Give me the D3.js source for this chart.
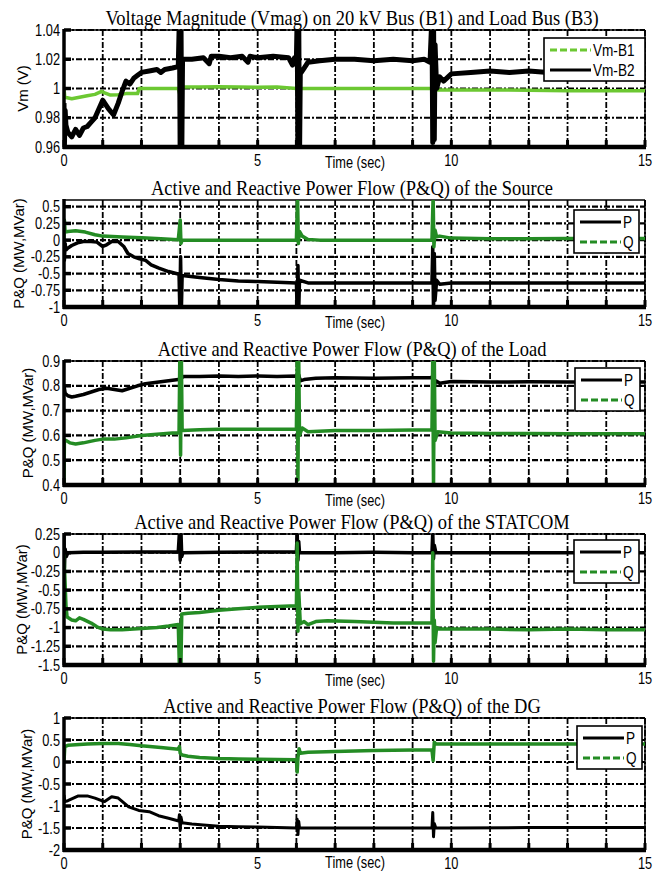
<!doctype html>
<html>
<head>
<meta charset="utf-8">
<title>Vmag and P&Q</title>
<script src="https://d3js.org/d3.v7.min.js"></script>
<style>
  body { margin: 0; background: #fff; }
</style>
</head>
<body>
<div id="chart"></div>
<script>

// ---- data ----

const titles = [
  "Voltage Magnitude (Vmag) on 20 kV Bus (B1) and Load Bus (B3)",
  "Active and Reactive Power Flow (P&Q) of the Source",
  "Active and Reactive Power Flow (P&Q) of the Load",
  "Active and Reactive Power Flow (P&Q) of the STATCOM",
  "Active and Reactive Power Flow (P&Q) of the DG"
];

const xGridTicks = [0,1,2,3,4,5,6,7,8,9,10,11,12,13,14,15];
const xLabelTicks = [0,5,10,15];
const xLabel = "Time (sec)";

// panel 1 - Vm
const vmTicks = [0.96,0.98,1,1.02,1.04];
const vmTickLabels = ["0.96","0.98","1","1.02","1.04"];
const vmB1 = [[0,1.0],[0.02,0.994],[0.2,0.993],[0.4,0.994],[0.6,0.995],[0.8,0.996],[0.97,0.998],[1.05,0.997],[1.2,0.9955],[1.4,0.9958],[1.6,0.9965],[1.9,0.9965],[1.94,1.0],[2.3,1.0],[2.6,1.0],[2.95,1.0],[3.0,0.995],[3.03,1.001],[3.5,1.001],[4,1.0012],[4.5,1.001],[5,1.0008],[5.5,1.001],[6.0,1.0],[6.03,0.997],[6.06,1.0],[6.5,1.0],[7,1.0],[8,1.0],[9,1.0],[9.5,1.0],[9.55,0.996],[9.6,0.999],[10,0.999],[11,0.999],[12,0.9988],[13,0.9985],[14,0.9985],[15,0.9985]];
const vmB2 = [[0,0.99],[0.01,0.96],[0.03,0.985],[0.05,0.975],[0.1,0.97],[0.2,0.967],[0.3,0.972],[0.4,0.968],[0.5,0.973],[0.6,0.974],[0.7,0.977],[0.8,0.98],[0.9,0.986],[1.0,0.992],[1.05,0.99],[1.15,0.986],[1.28,0.982],[1.4,0.99],[1.5,0.998],[1.6,1.005],[1.7,1.003],[1.8,1.007],[1.9,1.009],[2.0,1.011],[2.2,1.012],[2.4,1.013],[2.5,1.011],[2.6,1.013],[2.8,1.014],[2.95,1.015],[2.98,1.05],[3.0,0.95],[3.02,1.05],[3.04,0.95],[3.06,1.02],[3.3,1.02],[3.6,1.021],[3.75,1.017],[3.8,1.022],[4.0,1.022],[4.3,1.021],[4.6,1.022],[4.75,1.018],[4.8,1.022],[5,1.021],[5.4,1.022],[5.8,1.021],[5.9,1.016],[5.95,1.021],[6.0,1.02],[6.02,1.05],[6.04,0.95],[6.06,1.05],[6.08,0.95],[6.1,1.01],[6.2,1.014],[6.3,1.018],[6.6,1.019],[7,1.02],[7.5,1.02],[8,1.019],[8.5,1.02],[9,1.019],[9.3,1.02],[9.45,1.018],[9.5,1.05],[9.52,0.963],[9.54,1.05],[9.56,0.965],[9.58,1.03],[9.62,1.0],[9.7,1.008],[9.8,1.005],[10,1.01],[10.5,1.011],[11,1.012],[11.5,1.011],[12,1.012],[12.5,1.011],[13,1.012],[13.5,1.012],[14,1.013],[14.5,1.011],[14.8,1.014],[15,1.012]];

// panel 2 - source
const srcTicks = [-1,-0.75,-0.5,-0.25,0,0.25,0.5];
const srcTickLabels = ["-1","-0.75","-0.5","-0.25","0","0.25","0.5"];
const srcP = [[0,0.0],[0.01,-0.3],[0.03,-0.05],[0.05,-0.15],[0.1,-0.12],[0.2,-0.08],[0.35,-0.04],[0.5,-0.02],[0.7,-0.02],[0.85,-0.03],[1.0,-0.095],[1.1,-0.07],[1.23,-0.02],[1.4,-0.02],[1.55,-0.1],[1.65,-0.2],[1.8,-0.25],[1.95,-0.28],[2.1,-0.3],[2.25,-0.37],[2.45,-0.42],[2.7,-0.47],[2.97,-0.51],[2.99,-1.05],[3.01,-0.25],[3.03,-1.05],[3.05,-0.53],[3.5,-0.56],[4,-0.59],[4.5,-0.61],[5,-0.62],[5.5,-0.63],[6.0,-0.64],[6.02,-1.05],[6.04,-0.38],[6.06,-1.05],[6.08,-0.6],[6.3,-0.64],[7,-0.64],[8,-0.64],[9,-0.64],[9.5,-0.64],[9.52,-0.1],[9.54,-1.05],[9.56,-0.2],[9.58,-0.9],[9.62,-0.6],[9.7,-0.66],[10,-0.64],[12,-0.64],[15,-0.64]];
const srcQ = [[0,0.0],[0.01,0.3],[0.03,0.12],[0.1,0.13],[0.3,0.14],[0.55,0.12],[0.8,0.08],[1.0,0.06],[1.5,0.045],[2.0,0.035],[2.5,0.02],[2.95,0.005],[3.0,0.3],[3.02,-0.05],[3.05,0.0],[3.5,0.0],[4,0.0],[4.5,0.0],[5,0.0],[5.5,0.0],[6.0,0.0],[6.03,0.65],[6.05,-0.05],[6.08,0.13],[6.15,0.06],[6.3,0.01],[6.6,0.0],[7,0.0],[8,0.0],[9,0.0],[9.5,0.0],[9.53,0.65],[9.55,-0.1],[9.58,0.15],[9.62,0.05],[9.7,0.06],[10,0.03],[11,0.02],[12,0.02],[13,0.025],[14,0.025],[15,0.025]];

// panel 3 - load
const loadTicks = [0.4,0.5,0.6,0.7,0.8,0.9];
const loadTickLabels = ["0.4","0.5","0.6","0.7","0.8","0.9"];
const loadP = [[0,0.8],[0.03,0.77],[0.1,0.76],[0.2,0.755],[0.3,0.758],[0.5,0.765],[0.7,0.775],[0.9,0.785],[1.1,0.79],[1.3,0.785],[1.5,0.78],[1.7,0.79],[1.9,0.8],[2.1,0.808],[2.4,0.814],[2.7,0.82],[2.95,0.825],[3.0,0.83],[3.1,0.838],[3.5,0.838],[4,0.84],[4.5,0.838],[5,0.84],[5.5,0.838],[6.0,0.84],[6.03,0.81],[6.06,0.845],[6.1,0.82],[6.2,0.825],[6.5,0.83],[7,0.832],[8,0.83],[9,0.832],[9.5,0.832],[9.53,0.85],[9.56,0.8],[9.6,0.82],[9.7,0.81],[10,0.817],[11,0.815],[12,0.816],[13,0.815],[14,0.815],[15,0.815]];
const loadQ = [[0,0.4],[0.01,0.58],[0.05,0.58],[0.15,0.57],[0.3,0.565],[0.5,0.57],[0.8,0.58],[1.0,0.585],[1.3,0.585],[1.6,0.59],[2.0,0.6],[2.4,0.605],[2.8,0.61],[2.97,0.61],[2.99,0.92],[3.01,0.52],[3.03,0.92],[3.05,0.62],[3.5,0.623],[4,0.625],[5,0.625],[6,0.625],[6.02,0.92],[6.04,0.42],[6.06,0.92],[6.08,0.6],[6.15,0.63],[6.3,0.615],[7,0.62],[8,0.62],[9,0.622],[9.5,0.622],[9.52,0.92],[9.54,0.39],[9.56,0.92],[9.58,0.58],[9.65,0.615],[10,0.61],[11,0.608],[12,0.608],[13,0.607],[14,0.607],[15,0.607]];

// panel 4 - statcom
const stTicks = [-1.5,-1.25,-1,-0.75,-0.5,-0.25,0,0.25];
const stTickLabels = ["-1.5","-1.25","-1","-0.75","-0.5","-0.25","0","0.25"];
const stP = [[0,0.27],[0.01,-0.2],[0.03,0.05],[0.06,-0.05],[0.1,0.0],[0.5,0.005],[1,0.005],[2,0.01],[2.95,0.01],[2.98,0.27],[3.0,-0.1],[3.02,0.27],[3.04,-0.05],[3.07,0.0],[4,0.005],[5,0.01],[6.0,0.01],[6.02,0.27],[6.04,-0.1],[6.06,0.15],[6.08,0.0],[7,0.0],[8,0.005],[9,0.0],[9.5,0.0],[9.52,0.27],[9.54,-0.08],[9.56,0.1],[9.6,0.0],[10,0.0],[12,0.0],[15,0.0]];
const stQ = [[0,0.0],[0.02,-0.3],[0.05,-0.7],[0.08,-0.86],[0.2,-0.9],[0.3,-0.91],[0.4,-0.87],[0.5,-0.89],[0.7,-0.94],[0.85,-0.99],[1.0,-1.02],[1.2,-1.03],[1.5,-1.03],[1.8,-1.02],[2.1,-1.01],[2.4,-1.0],[2.7,-0.98],[2.95,-0.96],[2.98,-1.55],[3.0,-1.0],[3.02,-1.5],[3.04,-0.82],[3.2,-0.81],[3.5,-0.8],[4,-0.77],[4.5,-0.75],[5,-0.73],[5.5,-0.72],[6.0,-0.71],[6.02,0.13],[6.04,-1.05],[6.06,-0.5],[6.1,-0.95],[6.2,-0.92],[6.3,-0.96],[6.5,-0.92],[6.8,-0.91],[7.5,-0.92],[8.5,-0.94],[9.5,-0.94],[9.52,0.0],[9.54,-1.45],[9.56,-0.9],[9.58,-1.2],[9.62,-1.0],[9.7,-1.02],[10,-1.02],[11,-1.02],[12,-1.03],[13,-1.02],[14,-1.03],[15,-1.03]];

// panel 5 - DG
const dgTicks = [-2,-1.5,-1,-0.5,0,0.5,1];
const dgTickLabels = ["-2","-1.5","-1","-0.5","0","0.5","1"];
const dgP = [[0,-0.75],[0.02,-0.9],[0.1,-0.88],[0.37,-0.77],[0.6,-0.77],[0.8,-0.82],[0.97,-0.88],[1.05,-0.9],[1.23,-0.79],[1.4,-0.82],[1.67,-1.02],[1.93,-1.1],[2.2,-1.13],[2.44,-1.22],[2.7,-1.28],[2.96,-1.34],[2.98,-1.2],[3.0,-1.55],[3.02,-1.25],[3.05,-1.38],[3.3,-1.41],[3.6,-1.43],[4,-1.46],[4.5,-1.47],[5,-1.48],[5.5,-1.49],[6.0,-1.5],[6.02,-1.3],[6.04,-1.65],[6.06,-1.35],[6.08,-1.5],[7,-1.5],[8,-1.5],[9,-1.5],[9.5,-1.5],[9.52,-1.15],[9.54,-1.7],[9.56,-1.4],[9.6,-1.5],[10,-1.5],[12,-1.49],[15,-1.49]];
const dgQ = [[0,0.0],[0.02,0.35],[0.1,0.38],[0.3,0.39],[0.6,0.41],[1.0,0.42],[1.4,0.42],[1.7,0.4],[2.0,0.37],[2.5,0.33],[2.95,0.29],[2.98,0.35],[3.0,0.2],[3.05,0.16],[3.2,0.13],[3.5,0.1],[4,0.08],[4.5,0.07],[5,0.06],[5.5,0.055],[6.0,0.05],[6.02,-0.23],[6.04,0.1],[6.07,0.3],[6.1,0.2],[6.3,0.22],[7,0.24],[8,0.26],[9,0.27],[9.5,0.27],[9.53,0.03],[9.56,0.45],[9.6,0.41],[10,0.41],[11,0.41],[12,0.41],[13,0.41],[14,0.41],[15,0.41]];

// ---- layout ----

const W = 653, H = 872;
const left = 64, right = 645;
const lime = "#6cc832", green = "#248c24";
const sansFont = "'Liberation Sans', Arial, sans-serif";
const serifFont = "'Liberation Serif', 'Times New Roman', serif";
const squeeze = 0.8;   // the picture's text is narrow

const panels = [
  { top: 30, bottom: 147, domain: [0.96, 1.04], ticks: vmTicks, labels: vmTickLabels, ylab: "Vm (V)", ylabX: 23,
    series: [{ name: "Vm-B1", data: vmB1, color: lime, w: 3.5, dash: true }, { name: "Vm-B2", data: vmB2, color: "#000", w: 5 }],
    legend: { right: 645, top: 38, w: 101 } },
  { top: 200, bottom: 307, domain: [-1, 0.6], ticks: srcTicks, labels: srcTickLabels, ylab: "P&Q (MW,MVar)", ylabX: 19,
    series: [{ name: "P", data: srcP, color: "#000", w: 3.5 }, { name: "Q", data: srcQ, color: green, w: 3.5, dash: true }],
    legend: { right: 639, top: 210, w: 65 } },
  { top: 361, bottom: 485, domain: [0.4, 0.9], ticks: loadTicks, labels: loadTickLabels, ylab: "P&Q (MW,MVar)", ylabX: 28,
    series: [{ name: "P", data: loadP, color: "#000", w: 3.5 }, { name: "Q", data: loadQ, color: green, w: 3.5, dash: true }],
    legend: { right: 640, top: 368, w: 65 } },
  { top: 534, bottom: 665, domain: [-1.5, 0.25], ticks: stTicks, labels: stTickLabels, ylab: "P&Q (MW,MVar)", ylabX: 22,
    series: [{ name: "P", data: stP, color: "#000", w: 3.5 }, { name: "Q", data: stQ, color: green, w: 3.5, dash: true }],
    legend: { right: 639, top: 540, w: 65 } },
  { top: 718, bottom: 850, domain: [-2, 1], ticks: dgTicks, labels: dgTickLabels, ylab: "P&Q (MW,MVar)", ylabX: 27,
    series: [{ name: "P", data: dgP, color: "#000", w: 3 }, { name: "Q", data: dgQ, color: green, w: 3.5, dash: true }],
    legend: { right: 642, top: 726, w: 65 } }
];

const svg = d3.select("#chart").append("svg")
  .attr("width", W).attr("height", H)
  .style("display", "block");

svg.append("rect").attr("width", W).attr("height", H).attr("fill", "#fff");

const x = d3.scaleLinear().domain([0, 15]).range([left, right]);

function label(g, px, py, s, o) {
  const t = g.append("g").attr("transform", `translate(${px},${py}) scale(${o.sx || 1},1)`)
    .append("text")
    .attr("text-anchor", o.anchor || "middle")
    .attr("font-family", o.font || sansFont)
    .attr("font-size", o.size || 16)
    .attr("fill", "#000")
    .text(s);
  if (o.middle) t.attr("dy", "0.35em");
  return t;
}

const gridDash = "6,2,2,2";

panels.forEach((p, i) => {
  const y = d3.scaleLinear().domain(p.domain).range([p.bottom, p.top]);
  const g = svg.append("g");

  // title
  label(g, 352, p.top - 5, titles[i], { font: serifFont, size: 21, sx: 0.88 });

  // grid
  g.append("g").selectAll("line").data(xGridTicks).join("line")
    .attr("x1", d => x(d)).attr("x2", d => x(d))
    .attr("y1", p.top).attr("y2", p.bottom)
    .attr("stroke", "#000").attr("stroke-width", 1.8).attr("stroke-dasharray", gridDash);
  g.append("g").selectAll("line").data(p.ticks).join("line")
    .attr("x1", left).attr("x2", right)
    .attr("y1", d => y(d)).attr("y2", d => y(d))
    .attr("stroke", "#000").attr("stroke-width", 2.2).attr("stroke-dasharray", gridDash);

  // top and right edges
  g.append("line").attr("x1", left).attr("x2", right).attr("y1", p.top).attr("y2", p.top)
    .attr("stroke", "#000").attr("stroke-width", 1.5);
  g.append("line").attr("x1", right).attr("x2", right).attr("y1", p.top).attr("y2", p.bottom)
    .attr("stroke", "#000").attr("stroke-width", 1.5);

  // data
  const clipId = "clip" + i;
  svg.append("clipPath").attr("id", clipId).append("rect")
    .attr("x", left).attr("y", p.top).attr("width", right - left).attr("height", p.bottom - p.top);
  const line = d3.line().x(d => x(d[0])).y(d => y(d[1]));
  const lg = g.append("g").attr("clip-path", `url(#${clipId})`);
  p.series.forEach(s => {
    lg.append("path").datum(s.data)
      .attr("d", line)
      .attr("fill", "none")
      .attr("stroke", s.color)
      .attr("stroke-width", s.w)
      .attr("stroke-linejoin", "round");
  });

  // left and bottom axes (heavy)
  g.append("line").attr("x1", left).attr("x2", left).attr("y1", p.top - 1).attr("y2", p.bottom + 2)
    .attr("stroke", "#000").attr("stroke-width", 3.5);
  g.append("line").attr("x1", left - 1).attr("x2", right + 1).attr("y1", p.bottom).attr("y2", p.bottom)
    .attr("stroke", "#000").attr("stroke-width", 4.5);

  // tick marks
  g.append("g").selectAll("line").data(xGridTicks).join("line")
    .attr("x1", d => x(d)).attr("x2", d => x(d))
    .attr("y1", p.bottom).attr("y2", p.bottom - 7)
    .attr("stroke", "#000").attr("stroke-width", 3);
  g.append("g").selectAll("line").data(p.ticks).join("line")
    .attr("x1", left).attr("x2", left + 7)
    .attr("y1", d => y(d)).attr("y2", d => y(d))
    .attr("stroke", "#000").attr("stroke-width", 3.5);

  // tick labels
  p.ticks.forEach((t, k) => {
    label(g, 60, y(t), p.labels[k], { anchor: "end", middle: true, sx: squeeze });
  });
  xLabelTicks.forEach(t => {
    label(g, x(t), p.bottom + 19, String(t), { sx: squeeze });
  });
  label(g, 355, Math.min(p.bottom + 21, 868), xLabel, { sx: squeeze });

  // y axis title
  g.append("text")
    .attr("transform", `translate(${p.ylabX},${(p.top + p.bottom) / 2}) rotate(-90)`)
    .attr("text-anchor", "middle").attr("dy", "0.35em")
    .attr("font-family", sansFont).attr("font-size", 15)
    .text(p.ylab);

  // legend
  const L = p.legend;
  const lx = L.right - L.w;
  const lgd = g.append("g");
  lgd.append("rect").attr("x", lx).attr("y", L.top).attr("width", L.w).attr("height", 43)
    .attr("fill", "#fff").attr("stroke", "#000").attr("stroke-width", 1.6);
  p.series.forEach((s, k) => {
    const ly = L.top + 12 + k * 20;
    lgd.append("line").attr("x1", lx + 6).attr("x2", lx + 47).attr("y1", ly).attr("y2", ly)
      .attr("stroke", s.color).attr("stroke-width", 3)
      .attr("stroke-dasharray", s.dash ? "7,3" : null);
    label(lgd, lx + 49, ly, s.name, { anchor: "start", middle: true, sx: squeeze, size: 17 });
  });
});

</script>
</body>
</html>
